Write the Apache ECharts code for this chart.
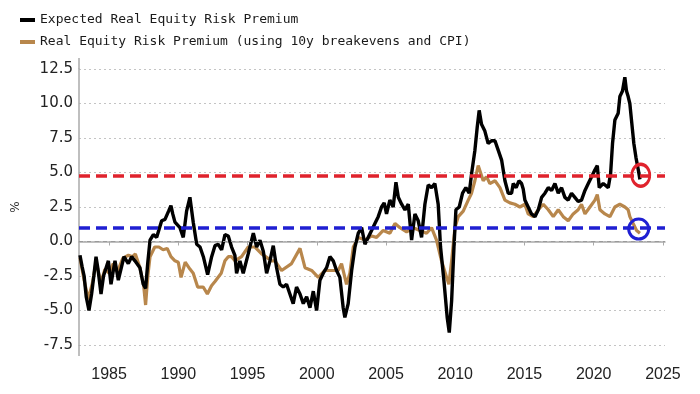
<!DOCTYPE html>
<html>
<head>
<meta charset="utf-8">
<script src="https://cdn.jsdelivr.net/npm/echarts@6/dist/echarts.min.js"></script>
<style>
html,body{margin:0;padding:0;background:#fff;}
#chart{width:700px;height:394px;}
</style>
</head>
<body>
<div id="chart"></div>
<script>
// ---- Data ----
const seriesNames = ["Expected Real Equity Risk Premium", "Real Equity Risk Premium (using 10y breakevens and CPI)"];

const expectedYears = [1982.90,1983.05,1983.20,1983.35,1983.55,1983.74,1983.90,1984.06,1984.20,1984.42,1984.60,1984.95,1985.14,1985.43,1985.67,1986.08,1986.39,1986.63,1986.87,1987.23,1987.47,1987.64,1987.80,1987.96,1988.20,1988.44,1988.80,1989.04,1989.30,1989.47,1989.60,1989.76,1990.12,1990.36,1990.60,1990.84,1991.08,1991.33,1991.57,1991.81,1992.12,1992.41,1992.65,1992.89,1993.13,1993.37,1993.61,1993.85,1994.09,1994.21,1994.45,1994.69,1995.05,1995.42,1995.66,1995.90,1996.14,1996.38,1996.62,1996.86,1997.10,1997.34,1997.58,1997.82,1998.06,1998.30,1998.54,1998.79,1999.03,1999.27,1999.51,1999.75,1999.99,2000.23,2000.47,2000.71,2000.95,2001.19,2001.43,2001.67,2001.91,2002.03,2002.27,2002.52,2002.76,2003.00,2003.24,2003.48,2003.72,2003.96,2004.20,2004.44,2004.68,2004.87,2005.04,2005.28,2005.52,2005.72,2005.89,2006.13,2006.37,2006.61,2006.85,2007.09,2007.33,2007.57,2007.81,2008.05,2008.29,2008.53,2008.77,2008.94,2009.18,2009.42,2009.57,2009.74,2009.91,2010.05,2010.29,2010.53,2010.77,2011.01,2011.18,2011.42,2011.59,2011.73,2011.90,2012.14,2012.38,2012.62,2012.87,2013.11,2013.35,2013.59,2013.83,2014.07,2014.19,2014.40,2014.60,2014.79,2014.91,2015.03,2015.27,2015.51,2015.76,2016.00,2016.24,2016.48,2016.72,2016.96,2017.20,2017.44,2017.68,2017.92,2018.16,2018.40,2018.64,2018.88,2019.12,2019.37,2019.61,2019.85,2020.09,2020.26,2020.40,2020.69,2021.05,2021.22,2021.36,2021.53,2021.77,2021.89,2022.08,2022.25,2022.37,2022.49,2022.61,2022.73,2022.90,2023.05,2023.22,2023.34];
const expectedValues = [-1.0,-1.8,-2.5,-4.0,-5.0,-3.8,-2.5,-1.1,-2.0,-3.8,-2.5,-1.4,-3.1,-1.4,-2.8,-1.1,-1.6,-1.1,-1.4,-1.9,-3.1,-3.4,-1.5,0.1,0.5,0.3,1.5,1.6,2.2,2.6,2.0,1.4,1.0,0.3,2.2,3.2,1.4,-0.2,-0.4,-1.1,-2.4,-1.1,-0.3,-0.2,-0.6,0.5,0.4,-0.4,-1.0,-2.3,-1.4,-2.3,-0.9,0.6,-0.4,0.1,-0.7,-2.3,-1.4,-0.3,-1.9,-3.1,-3.3,-3.1,-3.8,-4.5,-3.3,-3.8,-4.5,-4.0,-4.8,-3.6,-5.0,-2.8,-2.3,-1.9,-1.1,-1.4,-2.1,-2.6,-4.8,-5.5,-4.5,-2.1,-0.4,0.6,1.0,-0.2,0.3,0.8,1.3,1.8,2.5,2.8,2.0,3.0,2.5,4.3,3.2,2.7,2.3,2.7,0.1,2.0,1.5,0.3,2.7,4.1,3.9,4.2,2.7,-0.4,-2.8,-5.5,-6.6,-4.3,-0.4,2.3,2.5,3.5,3.9,3.5,4.9,6.6,8.3,9.5,8.5,8.0,7.1,7.3,7.3,6.6,5.9,4.4,3.5,3.5,4.2,3.9,4.4,4.2,3.8,3.0,2.5,2.0,1.8,2.3,3.2,3.5,3.9,3.7,4.2,3.5,3.9,3.2,3.0,3.5,3.2,2.9,3.0,3.7,4.2,4.7,5.2,5.5,3.9,4.2,3.9,4.9,7.1,8.8,9.3,10.5,10.9,11.9,10.9,10.5,10.0,8.8,7.1,6.1,5.2,4.5];

const realYears = [1982.90,1983.20,1983.50,1983.80,1984.06,1984.42,1984.70,1985.00,1985.30,1985.60,1986.00,1986.40,1986.70,1986.90,1987.23,1987.50,1987.64,1987.80,1987.96,1988.30,1988.60,1988.90,1989.20,1989.47,1989.76,1990.00,1990.20,1990.50,1990.84,1991.08,1991.40,1991.80,1992.10,1992.40,1992.65,1993.10,1993.37,1993.61,1993.85,1994.09,1994.57,1995.05,1995.54,1996.02,1996.74,1996.98,1997.46,1998.18,1998.79,1999.15,1999.63,2000.11,2000.59,2001.07,2001.55,2001.79,2002.15,2002.39,2002.64,2003.00,2003.48,2003.96,2004.32,2004.80,2005.28,2005.65,2006.01,2006.49,2006.97,2007.45,2007.93,2008.29,2008.65,2009.01,2009.38,2009.54,2009.74,2009.98,2010.22,2010.58,2010.94,2011.18,2011.42,2011.66,2012.02,2012.26,2012.50,2012.87,2013.23,2013.59,2013.95,2014.31,2014.67,2015.03,2015.27,2015.63,2016.00,2016.36,2016.72,2017.08,2017.44,2017.80,2018.16,2018.52,2018.88,2019.12,2019.37,2019.73,2020.09,2020.26,2020.45,2020.81,2021.17,2021.53,2021.89,2022.25,2022.49,2022.61,2022.85,2023.10,2023.34];
const realValues = [-1.2,-2.8,-4.2,-3.0,-1.5,-3.0,-2.0,-2.3,-1.6,-2.2,-1.2,-1.0,-1.1,-0.9,-1.9,-3.2,-4.6,-2.5,-1.1,-0.4,-0.4,-0.6,-0.5,-1.1,-1.4,-1.5,-2.6,-1.5,-2.0,-2.3,-3.3,-3.3,-3.8,-3.2,-2.9,-2.3,-1.4,-1.1,-1.1,-1.4,-1.1,-0.4,-0.4,-0.9,-1.4,-1.4,-2.1,-1.6,-0.5,-1.9,-2.1,-2.6,-2.1,-2.1,-2.1,-1.6,-3.1,-2.3,-0.4,0.3,0.1,0.4,0.3,0.8,0.6,1.3,1.0,0.7,1.0,0.8,0.6,1.0,0.1,-1.4,-2.6,-3.1,-1.4,1.0,1.8,2.2,3.0,3.5,4.4,5.5,4.4,4.7,4.2,4.4,3.9,3.0,2.8,2.7,2.5,2.7,2.0,1.8,2.3,2.7,2.3,1.8,2.3,1.8,1.5,2.0,2.3,2.7,2.0,2.5,3.0,3.4,2.3,2.0,1.8,2.5,2.7,2.5,2.3,1.8,1.3,0.8,0.6];

const redLevel = 4.8;     // red dashed reference line
const blueLevel = 1.0;    // blue dashed reference line
const redCircle = [2023.4, 4.8];
const blueCircle = [2023.25, 0.9];

const xMin = 1982.83, xMax = 2025.15;
const yMin = -7.5, yMax = 12.5, yStep = 2.5;

// ---- Chart ----
const chart = echarts.init(document.getElementById('chart'), null, {renderer: 'canvas'});
const pair = (xs, ys) => xs.map((x, i) => [x, ys[i]]);

const option = {
  animation: false,
  backgroundColor: '#ffffff',
  grid: {left: 79, right: 35, top: 69, bottom: 49, containLabel: false},
  legend: {
    data: seriesNames,
    orient: 'vertical',
    left: 15, top: 8,
    itemWidth: 15, itemHeight: 4, itemGap: 8,
    icon: 'rect',
    textStyle: {fontFamily: 'DejaVu Sans Mono', fontSize: 13, color: '#1a1a1a', lineHeight: 14}
  },
  xAxis: {
    type: 'value', min: xMin, max: xMax, splitNumber: 8,
    offset: 11,
    axisLine: {show: true, lineStyle: {color: '#aaaaaa', width: 1.5}},
    axisTick: {show: true, length: 4, lineStyle: {color: '#aaaaaa'}},
    axisLabel: {showMinLabel: false, showMaxLabel: false, margin: 11, fontFamily: 'Liberation Sans', fontSize: 16, color: '#222',
      formatter: v => String(Math.round(v))},
    splitLine: {show: false}
  },
  yAxis: {
    type: 'value', min: yMin, max: yMax, interval: yStep,
    name: '%', nameLocation: 'middle', nameRotate: 90, nameGap: 57,
    nameTextStyle: {fontFamily: 'DejaVu Sans', fontSize: 12, color: '#333'},
    axisLine: {show: true, lineStyle: {color: '#aaaaaa', width: 1.5}},
    axisTick: {show: false},
    axisLabel: {margin: 6, fontFamily: 'DejaVu Sans', fontSize: 15, color: '#222', formatter: v => v.toFixed(1)},
    splitLine: {show: true, lineStyle: {color: '#c4c4c4', type: [2, 3], width: 1}}
  },
  series: [
    {
      name: seriesNames[1], type: 'line', data: pair(realYears, realValues),
      showSymbol: false, symbol: 'none', z: 2,
      lineStyle: {color: '#b8874c', width: 3.2}, itemStyle: {color: '#b8874c'}
    },
    {
      name: seriesNames[0], type: 'line', data: pair(expectedYears, expectedValues),
      showSymbol: false, symbol: 'none', z: 3,
      lineStyle: {color: '#000000', width: 3.4}, itemStyle: {color: '#000000'}
    },
    {
      name: 'refs', type: 'line', data: [], z: 5,
      markLine: {
        silent: true, symbol: 'none', label: {show: false},
        data: [
          {yAxis: 0, lineStyle: {color: '#9a9a9a', type: [4, 4], width: 1}},
          {yAxis: redLevel, lineStyle: {color: '#e0232d', type: [11, 6], width: 3.5}},
          {yAxis: blueLevel, lineStyle: {color: '#1f1fd2', type: [11, 6], width: 3.5}}
        ]
      },
      markPoint: {
        silent: true, label: {show: false},
        data: [
          {coord: redCircle, symbol: 'circle', symbolSize: [18, 22], itemStyle: {color: 'rgba(0,0,0,0)', borderColor: '#e0232d', borderWidth: 3}},
          {coord: blueCircle, symbol: 'circle', symbolSize: [20, 20], itemStyle: {color: 'rgba(0,0,0,0)', borderColor: '#1f1fd2', borderWidth: 3}}
        ]
      }
    }
  ]
};
chart.setOption(option);

// extend the y axis line to meet the offset x axis (decoration only)
const yTop = chart.convertToPixel({yAxisIndex: 0}, yMax);
const yBot = chart.convertToPixel({yAxisIndex: 0}, yMin);
const xLeft = chart.convertToPixel({xAxisIndex: 0}, xMin);
chart.setOption({graphic: [
  {type: 'line', shape: {x1: xLeft, y1: yTop - 11, x2: xLeft, y2: yTop}, style: {stroke: '#aaaaaa', lineWidth: 1.5}, silent: true},
  {type: 'line', shape: {x1: xLeft, y1: yBot, x2: xLeft, y2: yBot + 11}, style: {stroke: '#aaaaaa', lineWidth: 1.5}, silent: true}
]});
</script>
</body>
</html>
